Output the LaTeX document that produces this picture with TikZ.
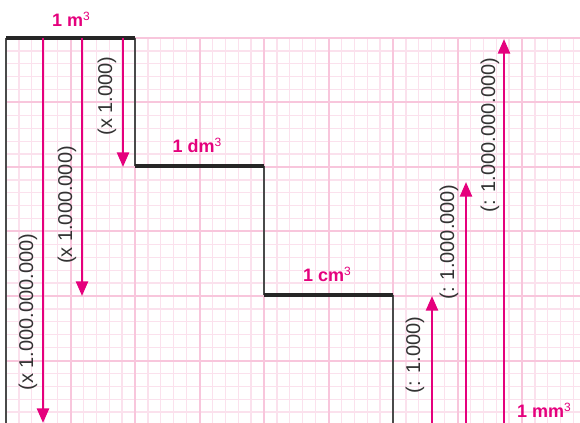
\documentclass[tikz,border=0pt]{standalone}
\usepackage{fontspec}
\setmainfont{Liberation Sans}
\usetikzlibrary{arrows.meta}
\definecolor{mag}{HTML}{E5007D}
\definecolor{gridminor}{HTML}{FBE1ED}
\definecolor{gridmajor}{HTML}{F8C6DC}
\definecolor{stairgray}{HTML}{4A4A4A}
\definecolor{txtgray}{HTML}{333333}
\newcommand{\cubic}{\raisebox{4.4pt}{\mdseries\fontsize{9}{9}\selectfont 3}}
\tikzset{
  minorline/.style={draw=gridminor, line width=1pt},
  majorline/.style={draw=gridmajor, line width=1.5pt},
  tread/.style={draw=black!85, line width=3pt},
  riser/.style={draw=stairgray, line width=1.1pt},
  conv/.style={draw=mag, line width=1.9pt, -{Triangle[width=9pt,length=11pt]}},
  convlabel/.style={rotate=90, text=txtgray, font=\fontsize{15}{15}\selectfont, inner sep=0pt},
  unitlabel/.style={text=mag, font=\bfseries\fontsize{13.5}{14}\selectfont, inner sep=0pt}
}
\begin{document}
\begin{tikzpicture}[x=0.75pt,y=-0.75pt]
\useasboundingbox (0,0) rectangle (580,423);
\fill[white] (0,0) rectangle (580,423);
% grid
\begin{scope}
\clip (6,38) rectangle (580,423);
\foreach \i in {0,...,45} {
  \pgfmathsetmacro\xx{6+12.9*\i}
  \pgfmathtruncatemacro\mm{mod(\i,5)}
  \ifnum\mm=0 \else
    \draw[minorline] (\xx,38) -- (\xx,423);
  \fi
}
\foreach \j in {0,...,30} {
  \pgfmathsetmacro\yy{38+12.9*\j}
  \pgfmathtruncatemacro\mm{mod(\j,5)}
  \ifnum\mm=0 \else
    \draw[minorline] (6,\yy) -- (580,\yy);
  \fi
}
\foreach \i in {0,5,...,45} {
  \pgfmathsetmacro\xx{6+12.9*\i}
  \draw[majorline] (\xx,38) -- (\xx,423);
}
\foreach \j in {0,5,...,30} {
  \pgfmathsetmacro\yy{38+12.9*\j}
  \draw[majorline] (6,\yy) -- (580,\yy);
}
\end{scope}
% staircase
\coordinate (s0) at (6,38);
\coordinate (s1) at (135,38);
\coordinate (s2) at (135,166);
\coordinate (s3) at (264,166);
\coordinate (s4) at (264,295);
\coordinate (s5) at (393,295);
\coordinate (s6) at (393,423);
\coordinate (s7) at (6,423);
\draw[riser] (s0) -- (s7);
\draw[riser] (s1) -- (s2);
\draw[riser] (s3) -- (s4);
\draw[riser] (s5) -- (s6);
\draw[tread] (s0) -- (s1);
\draw[tread] (s2) -- (s3);
\draw[tread] (s4) -- (s5);
% arrow coordinates
\coordinate (a1s) at (43,38);  \coordinate (a1e) at (43,423);
\coordinate (a2s) at (82,38);  \coordinate (a2e) at (82,296);
\coordinate (a3s) at (123,38); \coordinate (a3e) at (123,167);
\coordinate (a4s) at (432,423); \coordinate (a4e) at (432,296);
\coordinate (a5s) at (466,423); \coordinate (a5e) at (466,182);
\coordinate (a6s) at (504,423); \coordinate (a6e) at (504,39);
\draw[conv] (a1s) -- (a1e);
\draw[conv] (a2s) -- (a2e);
\draw[conv] (a3s) -- (a3e);
\draw[conv] (a4s) -- (a4e);
\draw[conv] (a5s) -- (a5e);
\draw[conv] (a6s) -- (a6e);
% conversion labels
\node[convlabel] (l1) at (28,312) {(x 1.000.000.000)};
\node[convlabel] (l2) at (67,205) {(x 1.000.000)};
\node[convlabel] (l3) at (107,96) {(x 1.000)};
\node[convlabel] (l4) at (415,355) {(: 1.000)};
\node[convlabel] (l5) at (449,242) {(: 1.000.000)};
\node[convlabel] (l6) at (490,135) {(: 1.000.000.000)};
% unit labels
\node[unitlabel] (u1) at (71,19) {1 m\cubic};
\node[unitlabel] (u2) at (197,145) {1 dm\cubic};
\node[unitlabel] (u3) at (327,274) {1 cm\cubic};
\node[unitlabel] (u4) at (544,410) {1 mm\cubic};
\end{tikzpicture}
\end{document}
